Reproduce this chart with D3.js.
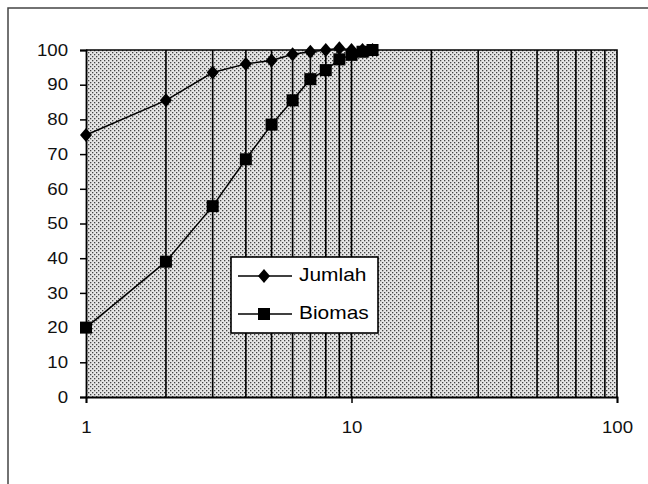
<!DOCTYPE html>
<html>
<head>
<meta charset="utf-8">
<script src="https://cdn.jsdelivr.net/npm/d3@7"></script>
<style>
  body { margin: 0; background: #fff; }
  text { font-family: "Liberation Sans", Arial, sans-serif; }
</style>
</head>
<body>
<div id="chart"></div>
<script>
// data
var xs = [1, 2, 3, 4, 5, 6, 7, 8, 9, 10, 11, 12];
var jumlah = [75.5, 85.5, 93.5, 96, 97, 98.8, 99.5, 100, 100.5, 100, 100, 100];
var biomas = [20, 39, 55, 68.5, 78.5, 85.5, 91.6, 94.2, 97.3, 98.6, 99.5, 100];
var yTicks = [0, 10, 20, 30, 40, 50, 60, 70, 80, 90, 100];
var xTicks = [1, 10, 100];
var gridVals = [2, 3, 4, 5, 6, 7, 8, 9, 10, 20, 30, 40, 50, 60, 70, 80, 90];

var W = 648, H = 484;
var margin = {top: 50, right: 31, bottom: 87, left: 86},
    width = W - margin.left - margin.right,
    height = H - margin.top - margin.bottom;

var svg = d3.select("#chart")
  .append("svg")
    .attr("width", W)
    .attr("height", H);

// outer frame (top and left only)
svg.append("path")
  .attr("d", "M8,484 L8,8 L648,8")
  .attr("fill", "none")
  .attr("stroke", "#444")
  .attr("stroke-width", 1.5);

// dotted background pattern
var defs = svg.append("defs");
var pat = defs.append("pattern")
  .attr("id", "dots")
  .attr("width", 4)
  .attr("height", 4)
  .attr("patternUnits", "userSpaceOnUse");
pat.append("rect").attr("width", 4).attr("height", 4).attr("fill", "#e6e6e6");
pat.append("rect").attr("x", 0).attr("y", 0).attr("width", 1.3).attr("height", 1.3).attr("fill", "#444");
pat.append("rect").attr("x", 2).attr("y", 2).attr("width", 1.3).attr("height", 1.3).attr("fill", "#444");

var g = svg.append("g")
  .attr("transform", "translate(" + margin.left + "," + margin.top + ")");

var x = d3.scaleLog()
  .domain([1, 100])
  .range([0, width]);

var y = d3.scaleLinear()
  .domain([0, 100])
  .range([height, 0]);

g.append("rect")
  .attr("width", width)
  .attr("height", height)
  .attr("fill", "url(#dots)");

// vertical gridlines
g.selectAll(".grid")
  .data(gridVals)
  .enter()
  .append("line")
    .attr("x1", function(d) { return x(d); })
    .attr("x2", function(d) { return x(d); })
    .attr("y1", 0)
    .attr("y2", height)
    .attr("stroke", "#000")
    .attr("stroke-width", 1.6);

// plot border top/right
g.append("path")
  .attr("d", "M0,0 L" + width + ",0 L" + width + "," + height)
  .attr("fill", "none")
  .attr("stroke", "#000")
  .attr("stroke-width", 1.6);

// axes
var yAxis = g.append("g")
  .call(d3.axisLeft(y).tickValues(yTicks).tickSize(6).tickPadding(12).tickFormat(d3.format("d")));
var xAxis = g.append("g")
  .attr("transform", "translate(0," + height + ")")
  .call(d3.axisBottom(x).tickValues(xTicks).tickSize(6).tickPadding(18).tickFormat(d3.format("d")));

[yAxis, xAxis].forEach(function(a) {
  a.select(".domain").attr("stroke", "#000").attr("stroke-width", 1.8);
  a.selectAll(".tick line").attr("stroke", "#000").attr("stroke-width", 1.5);
  a.selectAll(".tick text")
    .attr("font-size", "16.5px")
    .attr("fill", "#111")
    .style("font-family", "'Liberation Sans', Arial, sans-serif");
});

// stretch the text a little sideways, as in the scan
function widen(sel) {
  sel.each(function() {
    var len = this.getComputedTextLength();
    d3.select(this).attr("textLength", len * 1.13).attr("lengthAdjust", "spacingAndGlyphs");
  });
}
widen(g.selectAll(".tick text"));

var line = d3.line()
  .x(function(d) { return x(d[0]); })
  .y(function(d) { return y(d[1]); });

var jData = xs.map(function(v, i) { return [v, jumlah[i]]; });
var bData = xs.map(function(v, i) { return [v, biomas[i]]; });

g.append("path")
  .datum(jData)
  .attr("d", line)
  .attr("fill", "none")
  .attr("stroke", "#000")
  .attr("stroke-width", 1.5);

g.append("path")
  .datum(bData)
  .attr("d", line)
  .attr("fill", "none")
  .attr("stroke", "#000")
  .attr("stroke-width", 1.5);

// wide diamond marker
var diamondPath = "M0,-7 L6,0 L0,7 L-6,0 Z";
var sq = 12;

g.selectAll(".jm")
  .data(jData)
  .enter()
  .append("path")
    .attr("d", diamondPath)
    .attr("transform", function(d) { return "translate(" + x(d[0]) + "," + y(d[1]) + ")"; })
    .attr("fill", "#000");

g.selectAll(".bm")
  .data(bData)
  .enter()
  .append("rect")
    .attr("x", function(d) { return x(d[0]) - sq / 2; })
    .attr("y", function(d) { return y(d[1]) - sq / 2; })
    .attr("width", sq)
    .attr("height", sq)
    .attr("fill", "#000");

// legend
var lg = svg.append("g").attr("transform", "translate(231,257)");
lg.append("rect")
  .attr("width", 147)
  .attr("height", 76)
  .attr("fill", "#fff")
  .attr("stroke", "#000")
  .attr("stroke-width", 1.6);

lg.append("line").attr("x1", 7).attr("x2", 61).attr("y1", 19).attr("y2", 19)
  .attr("stroke", "#000").attr("stroke-width", 1.5);
lg.append("path").attr("d", diamondPath)
  .attr("transform", "translate(33,19)").attr("fill", "#000");
lg.append("text").attr("x", 68).attr("y", 24).attr("font-size", "18.5px").text("Jumlah");

lg.append("line").attr("x1", 7).attr("x2", 61).attr("y1", 57).attr("y2", 57)
  .attr("stroke", "#000").attr("stroke-width", 1.5);
lg.append("rect").attr("x", 33 - sq / 2).attr("y", 57 - sq / 2).attr("width", sq).attr("height", sq).attr("fill", "#000");
lg.append("text").attr("x", 68).attr("y", 62).attr("font-size", "18.5px").text("Biomas");
widen(lg.selectAll("text"));
</script>
</body>
</html>
